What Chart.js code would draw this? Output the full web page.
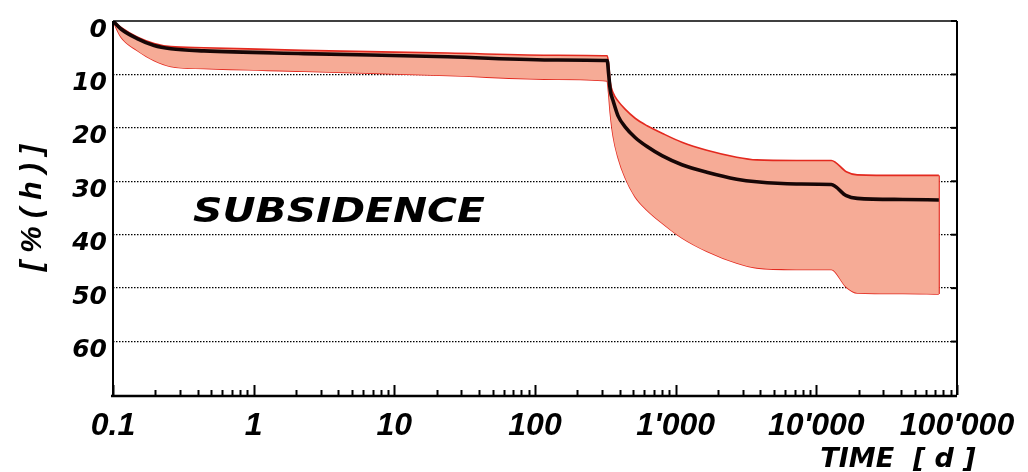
<!DOCTYPE html>
<html>
<head>
<meta charset="utf-8">
<script src="https://cdn.jsdelivr.net/npm/chart.js@4.4.0/dist/chart.umd.min.js"></script>
<style>
  html, body { margin: 0; padding: 0; background: #fff; }
  #wrap { width: 1028px; height: 472px; }
</style>
</head>
<body>
<div id="wrap"><canvas id="chart"></canvas></div>
<script>
// time in days, shared by all three curves
const timeDays = [0.1, 0.114, 0.1485, 0.196, 0.258, 0.443, 2.26, 24, 144, 326, 334, 343, 360, 390, 437, 515, 626, 799, 1108, 1665, 2716, 3758, 7212, 12770, 16330, 19540, 41300, 74300];

// subsidence in % of h
const meanCurve  = [0, 1.5, 3.3, 4.6, 5.2, 5.6, 6.1, 6.7, 7.3, 7.4, 10, 13, 15, 17.8, 19.8, 21.8, 23.5, 25.2, 26.9, 28.3, 29.6, 30.1, 30.5, 30.6, 32.7, 33.2, 33.4, 33.5];
const upperBound = [0, 1.2, 3.0, 4.2, 4.8, 5.0, 5.5, 6.0, 6.4, 6.5, 8, 11.5, 13.5, 15, 16.5, 18.2, 19.6, 21.0, 22.7, 24.2, 25.5, 26.0, 26.1, 26.1, 28.2, 28.8, 28.9, 28.9];
const lowerBound = [0, 3.0, 5.5, 7.4, 8.5, 8.9, 9.4, 10.2, 10.9, 11.2, 13.5, 17.2, 21.6, 25.6, 29.3, 32.9, 35.4, 37.8, 40.6, 43.1, 45.3, 46.2, 46.5, 46.5, 49.8, 50.9, 51, 51.1];

const timeLabels = ["0.1", "1", "10", "100", "1'000", "10'000", "100'000"];
const depthTicks = [0, 10, 20, 30, 40, 50, 60];

const pts = (vals) => vals.map((v, i) => ({ x: timeDays[i], y: v }));
const last = timeDays.length - 1;

const red = "#e3291f";
const band = "rgb(246,171,150)";

// frame, inward ticks and the free texts
const frame = {
  id: "frame",
  afterDatasetsDraw(chart) {
    const { ctx, chartArea: a, scales: { x, y } } = chart;
    ctx.save();
    ctx.strokeStyle = "#000";
    ctx.lineWidth = 2;
    x.ticks.forEach((t) => {
      const px = Math.round(x.getPixelForValue(t.value)) + 0.5;
      const len = t.major ? 10 : 5;
      ctx.beginPath();
      ctx.moveTo(px, a.bottom);
      ctx.lineTo(px, a.bottom - len);
      ctx.stroke();
    });
    depthTicks.forEach((v) => {
      const py = y.getPixelForValue(v);
      ctx.beginPath();
      ctx.moveTo(a.right, py);
      ctx.lineTo(a.right - 6, py);
      ctx.stroke();
    });
    ctx.lineWidth = 1.5;
    ctx.beginPath();
    ctx.moveTo(a.left, a.top);
    ctx.lineTo(a.right, a.top);
    ctx.stroke();
    ctx.lineWidth = 2;
    ctx.beginPath();
    ctx.moveTo(a.left, a.top);
    ctx.lineTo(a.left, a.bottom);
    ctx.moveTo(a.right, a.top);
    ctx.lineTo(a.right, a.bottom);
    ctx.stroke();
    ctx.lineWidth = 2.5;
    ctx.beginPath();
    ctx.moveTo(a.left - 2, a.bottom + 1);
    ctx.lineTo(a.right, a.bottom + 1);
    ctx.stroke();

    ctx.fillStyle = "#000";
    ctx.textAlign = "center";
    ctx.textBaseline = "alphabetic";
    ctx.save();
    ctx.translate(339, 222);
    ctx.scale(1.2, 1);
    ctx.font = "italic bold 34px 'DejaVu Sans'";
    ctx.fillText("SUBSIDENCE", 0, 0);
    ctx.restore();
    ctx.font = "italic bold 27px 'DejaVu Sans'";
    ctx.fillText("TIME  [ d ]", 898, 467);
    ctx.restore();
  }
};

new Chart(document.getElementById("chart"), {
  type: "line",
  data: {
    datasets: [
      {
        data: pts(meanCurve),
        borderColor: "#160606",
        borderWidth: 3.6,
        order: 0
      },
      {
        data: pts(upperBound),
        borderColor: red,
        borderWidth: 1.6,
        backgroundColor: band,
        fill: { target: 2 },
        order: 1
      },
      {
        data: pts(lowerBound),
        borderColor: red,
        borderWidth: 1.6,
        order: 2
      },
      {
        // closing edge of the band
        data: [
          { x: timeDays[last], y: upperBound[last] },
          { x: timeDays[last], y: lowerBound[last] }
        ],
        borderColor: red,
        borderWidth: 2,
        order: 1
      }
    ]
  },
  options: {
    responsive: true,
    maintainAspectRatio: false,
    animation: false,
    layout: { padding: { left: 0, right: 71, top: 17, bottom: 0 } },
    elements: {
      point: { radius: 0 },
      line: { cubicInterpolationMode: "monotone" }
    },
    plugins: { legend: { display: false }, tooltip: { enabled: false } },
    scales: {
      x: {
        type: "logarithmic",
        min: 0.1,
        max: 100000,
        afterFit(scale) { scale.height = 77; },
        afterBuildTicks(scale) {
          const ticks = [];
          for (let e = -1; e <= 5; e++) {
            for (let m = 1; m <= 9; m++) {
              const v = m * Math.pow(10, e);
              if (v > 100000 * 1.0001) break;
              ticks.push({ value: v, major: m === 1 });
            }
          }
          scale.ticks = ticks;
        },
        grid: { display: false, drawTicks: false },
        border: { display: false },
        ticks: {
          autoSkip: false,
          maxRotation: 0,
          minRotation: 0,
          padding: 12,
          color: "#000",
          font: { family: "'Liberation Sans'", size: 32, style: "italic", weight: "bold" },
          callback(value, i, ticks) {
            if (!ticks[i].major) return "";
            return timeLabels[Math.round(Math.log10(value)) + 1];
          }
        }
      },
      y: {
        reverse: true,
        min: 0,
        max: 70,
        afterFit(scale) { scale.width = 113; },
        afterBuildTicks(scale) {
          scale.ticks = depthTicks.map((v) => ({ value: v }));
        },
        grid: {
          drawTicks: false,
          lineWidth: 1.3,
          color: (c) => (c.tick && c.tick.value === 0 ? "rgba(0,0,0,0)" : "#000")
        },
        border: { display: false, dash: [1.5, 1.5] },
        ticks: {
          padding: 6,
          labelOffset: 9,
          color: "#000",
          font: { family: "'DejaVu Sans'", size: 25, style: "italic", weight: "bold" }
        },
        title: {
          display: true,
          text: "[ % ( h ) ]",
          color: "#000",
          padding: { top: 15, bottom: 0 },
          font: { family: "'Liberation Sans'", size: 30, style: "italic", weight: "bold" }
        }
      }
    }
  },
  plugins: [frame]
});
</script>
</body>
</html>
